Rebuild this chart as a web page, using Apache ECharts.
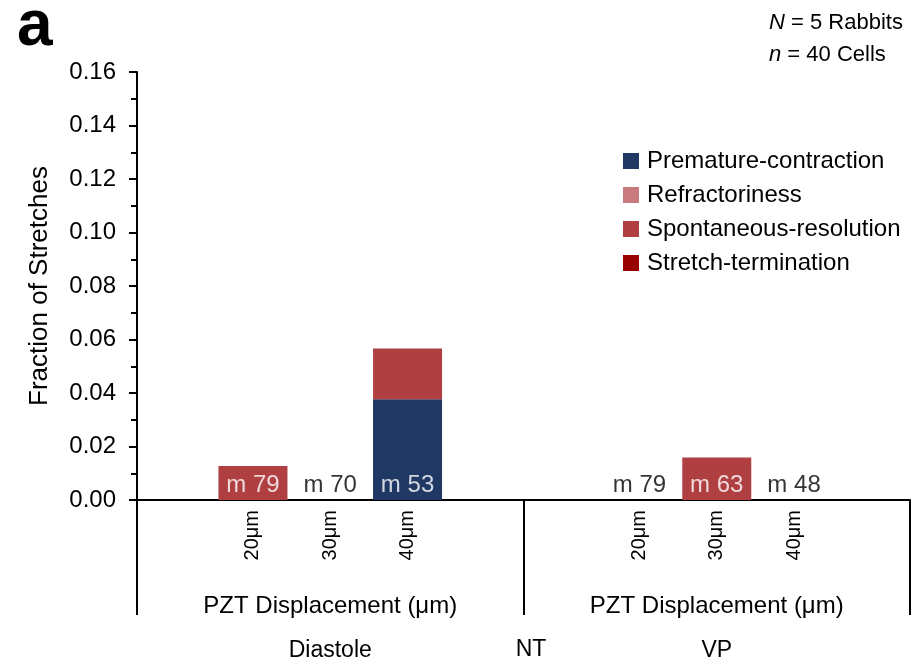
<!DOCTYPE html>
<html>
<head>
<meta charset="utf-8">
<script src="https://cdn.jsdelivr.net/npm/echarts@6/dist/echarts.min.js"></script>
<style>html,body{margin:0;padding:0;background:#fff}#c{width:914px;height:667px}</style>
</head>
<body>
<div id="c"></div>
<script>
const FONT = '"Liberation Sans", Arial, sans-serif';
const categories = ["", "20μm", "30μm", "40μm", "", "", "20μm", "30μm", "40μm", ""];
const groupLabels = ["PZT Displacement (μm)", "PZT Displacement (μm)"];
const conditionLabels = ["Diastole", "VP"];
const seriesNames = ["Premature-contraction", "Refractoriness", "Spontaneous-resolution", "Stretch-termination"];
const seriesColors = ["#1F3864", "#C97A7C", "#B03F42", "#990000"];
const prematureContraction = [null, 0, 0, 0.0377, null, null, 0, 0, 0, null];
const refractoriness = [null, 0, 0, 0, null, null, 0, 0, 0, null];
const spontaneousResolution = [null, 0.0127, 0, 0.0189, null, null, 0, 0.0159, 0, null];
const stretchTermination = [null, 0, 0, 0, null, null, 0, 0, 0, null];
const countLabels = ["", "m 79", "m 70", "m 53", "", "", "m 79", "m 63", "m 48", ""];
const countLabelOnBar = [false, true, false, true, false, false, false, true, false, false];
const yTicks = { min: 0, max: 0.16, interval: 0.02 };

const seriesData = [prematureContraction, refractoriness, spontaneousResolution, stretchTermination];

const chart = echarts.init(document.getElementById('c'));
const barSeries = seriesNames.map((n, i) => ({
  name: n, type: 'bar', stack: 'total', xAxisIndex: 0,
  data: seriesData[i], barWidth: 69,
  itemStyle: { color: seriesColors[i] },
  emphasis: { disabled: true }
}));
const labelSeries = {
  type: 'scatter', xAxisIndex: 0, symbolSize: 0, silent: true,
  data: countLabels.map((t, i) => t ? {
    value: [i, 0],
    label: { show: true, position: 'top', distance: 3, formatter: t,
      color: countLabelOnBar[i] ? '#fff' : '#000', fontSize: 24, fontFamily: FONT }
  } : null).filter(d => d)
};

chart.setOption({
  animation: false,
  textStyle: { fontFamily: FONT },
  title: [
    { text: 'a', left: 12, top: -10, textStyle: { fontSize: 64, fontWeight: 'bold', color: '#000', fontFamily: FONT } },
    { text: '{i|N} = 5 Rabbits\n{i|n} = 40 Cells', left: 764, top: 2,
      textStyle: { fontSize: 22, fontWeight: 'normal', color: '#000', lineHeight: 32, fontFamily: FONT,
        rich: { i: { fontStyle: 'italic', fontSize: 22, fontFamily: FONT, lineHeight: 32 } } } },
    { text: 'NT', left: 526, top: 633, textAlign: 'center',
      textStyle: { fontSize: 23, fontWeight: 'normal', color: '#000', fontFamily: FONT } }
  ],
  legend: {
    orient: 'vertical', left: 618, top: 144, itemWidth: 16, itemHeight: 16, itemGap: 10,
    icon: 'rect', data: seriesNames,
    textStyle: { fontSize: 24, color: '#000', fontFamily: FONT, lineHeight: 24, padding: [0, 0, 0, 3] }
  },
  grid: { left: 137, right: 4, top: 72, bottom: 167, containLabel: false },
  xAxis: [
    { type: 'category', data: categories, position: 'bottom', offset: 0,
      axisLine: { show: true, lineStyle: { color: '#000', width: 2 } },
      axisTick: { show: false },
      axisLabel: { rotate: 90, fontSize: 20, color: '#000', margin: 10, interval: 0, fontFamily: FONT } },
    { type: 'category', data: groupLabels, position: 'bottom', offset: 0,
      axisLine: { show: false },
      axisTick: { show: true, length: 115, lineStyle: { color: '#000', width: 2 } },
      axisLabel: { fontSize: 24, color: '#000', margin: 94, fontFamily: FONT } },
    { type: 'category', data: conditionLabels, position: 'bottom', offset: 0,
      axisLine: { show: false }, axisTick: { show: false },
      axisLabel: { fontSize: 23, color: '#000', margin: 139, fontFamily: FONT } }
  ],
  yAxis: {
    type: 'value', min: yTicks.min, max: yTicks.max, interval: yTicks.interval,
    name: 'Fraction of Stretches', nameLocation: 'middle', nameGap: 84,
    nameTextStyle: { fontSize: 26, color: '#000', fontFamily: FONT },
    axisLine: { show: true, lineStyle: { color: '#000', width: 2 } },
    axisTick: { show: true, length: 8, lineStyle: { color: '#000', width: 2 } },
    minorTick: { show: true, splitNumber: 2, length: 6, lineStyle: { color: '#000', width: 2 } },
    splitLine: { show: false },
    axisLabel: { fontSize: 24, color: '#000', margin: 21, fontFamily: FONT, formatter: v => v.toFixed(2) }
  },
  series: [...barSeries, labelSeries]
});
</script>
</body>
</html>
